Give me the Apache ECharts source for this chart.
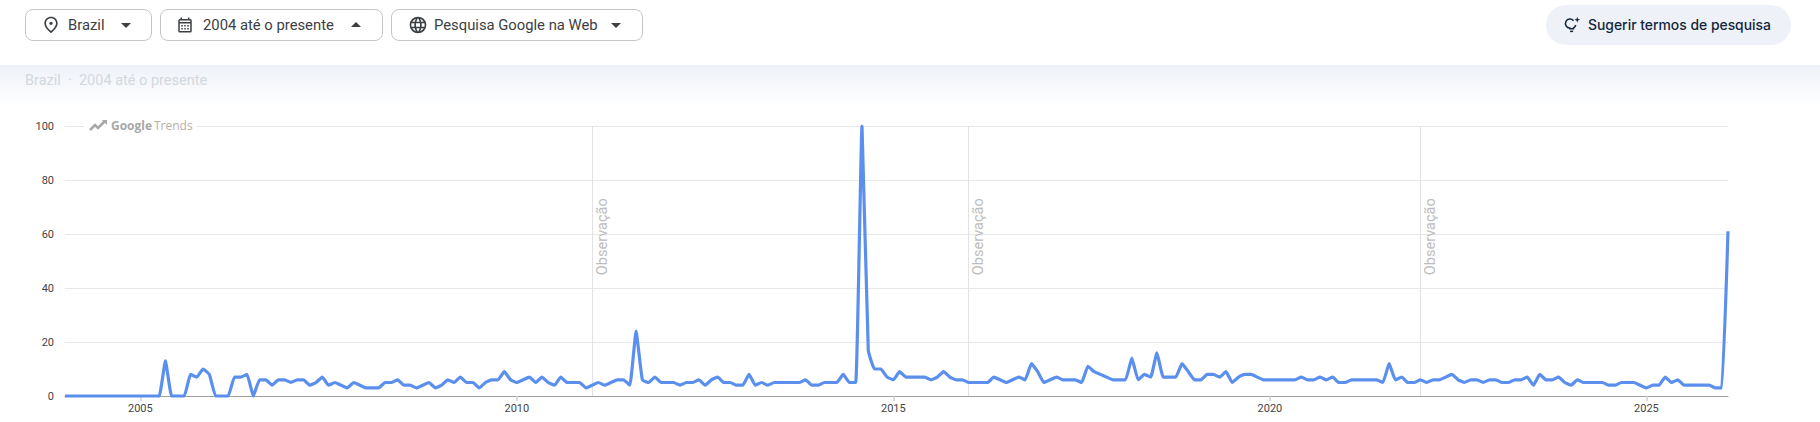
<!DOCTYPE html>
<html><head><meta charset="utf-8">
<script src="https://cdn.jsdelivr.net/npm/echarts@6/dist/echarts.min.js"></script>
<style>
html,body{margin:0;padding:0;background:#fff;width:1820px;height:422px;overflow:hidden;font-family:Roboto,"Noto Sans",sans-serif;color:#3c4043}
#band{position:absolute;left:0;top:65px;width:1820px;height:42px;background:linear-gradient(#eef2f8,#fff)}
#sub{position:absolute;left:25px;top:72px;font-size:14.5px;color:#d3d8df;line-height:17px}
#chart{position:absolute;left:0;top:0;width:1820px;height:422px}
.btn{position:absolute;top:9px;height:30px;border:1px solid #c4c7c9;border-radius:8px;box-sizing:content-box;background:#fff}
.btn span{position:absolute;top:6px;font-size:14.8px;line-height:18px;color:#3c4043;white-space:nowrap}
.btn svg{position:absolute}
#sug{position:absolute;left:1546px;top:5px;width:245px;height:40px;border-radius:20px;background:#eef2f8}
#sug span{position:absolute;left:42px;top:11px;font-size:13.9px;line-height:18px;color:#14263c;font-weight:500;font-family:Inter,Roboto,sans-serif;white-space:nowrap}
#sug svg{position:absolute;left:17px;top:11px}
#logo{position:absolute;left:84px;top:118px;width:113px;height:16px;background:#fff;font-size:13px;line-height:16px;color:#b5b5b5}
#logo b{position:absolute;left:27px;top:0;color:#a8a8a8;font-weight:700;font-family:"Open Sans",Roboto,sans-serif;font-size:12px}
#logo i{position:absolute;left:70px;top:0;font-style:normal;color:#b8b0a8;font-family:"Open Sans",Roboto,sans-serif;font-size:12px}
#logo svg{position:absolute;left:5px;top:0}
</style></head><body>
<div id="band"></div>
<div id="sub">Brazil &nbsp;·&nbsp; 2004 até o presente</div>
<div id="chart"></div>
<div class="btn" style="left:25px;width:125px">
 <svg style="left:15px;top:5px" width="20" height="20" viewBox="0 0 24 24" fill="#3c4043"><path d="M12 12c-1.1 0-2-.9-2-2s.9-2 2-2 2 .9 2 2-.9 2-2 2zm6-1.8C18 6.57 15.35 4 12 4s-6 2.57-6 6.2c0 2.34 1.95 5.44 6 9.14 4.05-3.7 6-6.8 6-9.14zM12 2c4.2 0 8 3.22 8 8.2 0 3.32-2.67 7.25-8 11.8-5.33-4.55-8-8.48-8-11.8C4 5.22 7.8 2 12 2z"/></svg>
 <span style="left:42px">Brazil</span>
 <svg style="left:88px;top:3px" width="24" height="24" viewBox="0 0 24 24" fill="#3c4043"><path d="M7 10l5 5 5-5z"/></svg>
</div>
<div class="btn" style="left:160px;width:221px">
 <svg style="left:15px;top:6px" width="18" height="18" viewBox="0 0 24 24" fill="#3c4043"><path d="M19 4h-1V2h-2v2H8V2H6v2H5a2 2 0 0 0-2 2v14a2 2 0 0 0 2 2h14a2 2 0 0 0 2-2V6a2 2 0 0 0-2-2zm0 16H5V10h14v10zM5 8V6h14v2H5zm2 4h2v2H7zm4 0h2v2h-2zm4 0h2v2h-2zm-8 4h2v2H7zm4 0h2v2h-2zm4 0h2v2h-2z"/></svg>
 <span style="left:42px">2004 até o presente</span>
 <svg style="left:183px;top:3px" width="24" height="24" viewBox="0 0 24 24" fill="#3c4043"><path d="M7 14l5-5 5 5z"/></svg>
</div>
<div class="btn" style="left:391px;width:250px">
 <svg style="left:16px;top:5px" width="20" height="20" viewBox="0 0 24 24" fill="#3c4043"><path d="M12 2a10 10 0 1 0 0 20 10 10 0 0 0 0-20zm6.9 6h-2.95a15.6 15.6 0 0 0-1.38-3.56A8 8 0 0 1 18.9 8zM12 4.04c.83 1.2 1.48 2.53 1.91 3.96h-3.82c.43-1.43 1.08-2.76 1.91-3.96zM4.26 14a8 8 0 0 1 0-4h3.38a16.5 16.5 0 0 0 0 4H4.26zm.82 2h2.95c.32 1.25.78 2.45 1.38 3.56A8 8 0 0 1 5.08 16zm2.95-8H5.08a8 8 0 0 1 4.33-3.56A15.6 15.6 0 0 0 8.03 8zM12 19.96c-.83-1.2-1.48-2.53-1.91-3.96h3.82c-.43 1.43-1.08 2.76-1.91 3.96zM14.34 14H9.66a14.7 14.7 0 0 1 0-4h4.68a14.7 14.7 0 0 1 0 4zm.25 5.56c.6-1.11 1.06-2.31 1.38-3.56h2.95a8 8 0 0 1-4.33 3.56zM16.36 14a16.5 16.5 0 0 0 0-4h3.38a8 8 0 0 1 0 4h-3.38z"/></svg>
 <span style="left:42px">Pesquisa Google na Web</span>
 <svg style="left:212px;top:3px" width="24" height="24" viewBox="0 0 24 24" fill="#3c4043"><path d="M7 10l5 5 5-5z"/></svg>
</div>
<div id="sug">
 <svg width="18" height="18" viewBox="0 0 24 24" fill="none" stroke="#14263c" stroke-width="2"><path d="M14 6.3A6 6 0 1 0 9 16v1h5v-1a6 6 0 0 0 3-4"/><path d="M9.5 20.5h4"/><path d="M19 1l1 3 3 1-3 1-1 3-1-3-3-1 3-1z" fill="#14263c" stroke="none"/></svg>
 <span>Sugerir termos de pesquisa</span>
</div>
<div id="logo">
 <svg width="20" height="14" viewBox="0 0 20 14" fill="none" stroke="#a8a8a8" stroke-width="2.6"><path d="M1 12l5-5 3 3 7-7"/><path d="M13 2h5v5" fill="#a8a8a8" stroke="none"/></svg>
 <b>Google</b><i>Trends</i>
</div>
<script>
var startYear = 2004;
var values = [
0,0,0,0,0,0,0,0,0,0,0,0,
0,0,0,0,13,0,0,0,8,7,10,8,
0,0,0,7,7,8,0,6,6,4,6,6,
5,6,6,4,5,7,4,5,4,3,5,4,
3,3,3,5,5,6,4,4,3,4,5,3,
4,6,5,7,5,5,3,5,6,6,9,6,
5,6,7,5,7,5,4,7,5,5,5,3,
4,5,4,5,6,6,4,24,6,5,7,5,
5,5,4,5,5,6,4,6,7,5,5,4,
4,8,4,5,4,5,5,5,5,5,6,4,
4,5,5,5,8,5,5,100,17,10,10,7,
6,9,7,7,7,7,6,7,9,7,6,6,
5,5,5,5,7,6,5,6,7,6,12,9,
5,6,7,6,6,6,5,11,9,8,7,6,
6,6,14,6,8,7,16,7,7,7,12,9,
6,6,8,8,7,9,5,7,8,8,7,6,
6,6,6,6,6,7,6,6,7,6,7,5,
5,6,6,6,6,6,5,12,6,7,5,5,
6,5,6,6,7,8,6,5,6,6,5,6,
6,5,5,6,6,7,4,8,6,6,7,5,
4,6,5,5,5,5,4,4,5,5,5,4,
3,4,4,7,5,6,4,4,4,4,4,3,
3,61
];
var yearLabels = [2005, 2010, 2015, 2020, 2025];
var observationYears = [2011, 2016, 2022];
var observationLabel = 'Observação';
var yTicks = [0, 20, 40, 60, 80, 100];

var categories = values.map(function (_, i) {
  var y = startYear + Math.floor(i / 12), m = i % 12 + 1;
  return y + '-' + (m < 10 ? '0' : '') + m;
});
function isYearTick(i) {
  return i % 12 === 0 && yearLabels.indexOf(startYear + i / 12) >= 0;
}
var chart = echarts.init(document.getElementById('chart'), null, {renderer: 'svg'});
chart.setOption({
  animation: false,
  backgroundColor: 'transparent',
  grid: {left: 65, right: 92, top: 126, bottom: 26},
  xAxis: {
    type: 'category', data: categories, boundaryGap: false,
    axisLine: {lineStyle: {color: '#9e9e9e', width: 1}},
    axisTick: {show: true, length: 5, interval: function (i) { return isYearTick(i); }, lineStyle: {color: '#cfcfcf', width: 1.5}},
    axisLabel: {
      interval: function (i) { return isYearTick(i); },
      formatter: function (v) { return v.slice(0, 4); },
      color: '#444', fontFamily: 'Roboto', fontSize: 11, margin: 7, hideOverlap: false
    },
    splitLine: {show: false}
  },
  yAxis: {
    type: 'value', min: 0, max: yTicks[yTicks.length - 1], interval: 20,
    axisLine: {show: false}, axisTick: {show: false},
    axisLabel: {color: '#444', fontFamily: 'Roboto', fontSize: 11, margin: 11},
    splitLine: {lineStyle: {color: '#e8e8e8', width: 1}}
  },
  series: [{
    type: 'line', data: values, showSymbol: false, symbol: 'none', smooth: 0.12, clip: false,
    lineStyle: {color: '#5b8fee', width: 3.2},
    z: 3,
    markLine: {
      silent: true, symbol: 'none', animation: false, label: {show: false}, z: 1,
      lineStyle: {color: '#e2e2e2', width: 1, type: 'solid'},
      data: observationYears.map(function (y) { return {xAxis: y + '-01'}; })
    },
    markPoint: {
      silent: true, symbol: 'circle', symbolSize: 0,
      data: observationYears.map(function (y) {
        return {
          coord: [y + '-01', 59],
          label: {show: true, formatter: observationLabel, rotate: 90, position: 'inside', offset: [0, 10],
            color: '#bdbdbd', fontFamily: 'Roboto', fontSize: 14.5}
        };
      })
    }
  }]
});
</script>
</body></html>
